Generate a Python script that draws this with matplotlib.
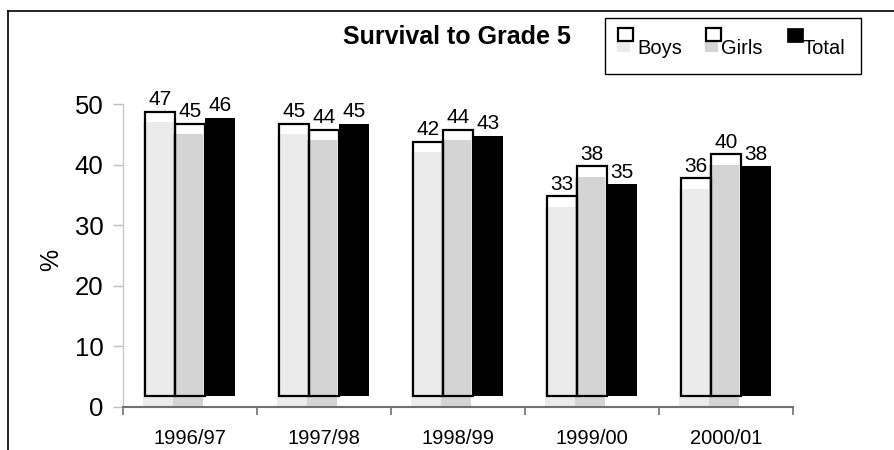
import numpy as np
import matplotlib
matplotlib.use('Agg')
import matplotlib.pyplot as plt
from matplotlib.patches import Rectangle
from matplotlib.lines import Line2D

# data
years = ['1996/97', '1997/98', '1998/99', '1999/00', '2000/01']
boys = [47, 45, 42, 33, 36]
girls = [45, 44, 44, 38, 40]
total = [46, 45, 43, 35, 38]

series_names = ['Boys', 'Girls', 'Total']
fill_colors = ['#ebebeb', '#d4d4d4', '#000000']

W, H = 895, 450
plt.rcParams['font.family'] = ['Liberation Sans', 'DejaVu Sans']

fig = plt.figure(figsize=(W / 100, H / 100), dpi=100)


def px(x, y):
    # pixel position (from top-left) -> figure fraction
    return x / W, 1 - y / H


ax_l, ax_r, ax_t, ax_b = 123, 793, 104, 407
ax = fig.add_axes([ax_l / W, 1 - ax_b / H, (ax_r - ax_l) / W, (ax_b - ax_t) / H])

x = np.arange(len(years))
bw = 0.224
shift = 1.75      # the outline sits a little above the fill
fill_dx = -0.015  # fill sits a little to the left

for i, (vals, col) in enumerate(zip([boys, girls, total], fill_colors)):
    xs = x + (i - 1) * bw
    if i < 2:
        ax.bar(xs + fill_dx, vals, width=bw, color=col, linewidth=0, zorder=2)
        ax.bar(xs, vals, width=bw, bottom=shift, fill=False, edgecolor='black',
               linewidth=1.6, zorder=3)
    else:
        ax.bar(xs, vals, width=bw, bottom=shift, color='black', linewidth=0, zorder=3)
    for xi, v in zip(xs, vals):
        ax.text(xi, v + shift + 0.4, str(v), ha='center', va='bottom', fontsize=15)

ax.set_xlim(-0.5, len(years) - 0.5)
ax.set_ylim(0, 50)
ax.set_yticks(np.arange(0, 51, 10))
ax.set_xticks(x)
ax.set_xticklabels(years, fontsize=14.5)
ax.set_xticks(np.arange(-0.5, len(years), 1), minor=True)
ax.tick_params(axis='x', which='major', length=0, pad=16)
ax.tick_params(axis='x', which='minor', length=6, width=1.2, color='#707070', direction='out')
ax.tick_params(axis='y', length=7, width=1, color='#c0c0c0', labelsize=18.5, pad=7)

for s in ['top', 'right']:
    ax.spines[s].set_visible(False)
ax.spines['left'].set_color('#c8c8c8')
ax.spines['left'].set_linewidth(1)
ax.spines['bottom'].set_color('#707070')
ax.spines['bottom'].set_linewidth(1.5)
ax.patch.set_alpha(0)

fig.text(*px(51, 260), '%', rotation=90, ha='center', va='center', fontsize=18)
fig.text(*px(457, 37), 'Survival to Grade 5', ha='center', va='center',
         fontsize=18, fontweight='bold')

# outer frame (top and left edges)
fig.add_artist(Line2D([px(8, 11)[0], 1], [px(8, 11)[1]] * 2, color='black', lw=1.2))
fig.add_artist(Line2D([px(8, 11)[0]] * 2, [px(8, 11)[1], 0], color='black', lw=1.2))

# legend drawn by hand
lx0, ly0 = px(605, 74)
lx1, ly1 = px(861, 18)
fig.add_artist(Rectangle((lx0, ly0), lx1 - lx0, ly1 - ly0, transform=fig.transFigure,
                         facecolor='white', edgecolor='black', lw=1))
marker_x = [618, 706, 787]
text_x = [637, 721, 803]
for name, col, mx, tx in zip(series_names, fill_colors, marker_x, text_x):
    if name != 'Total':
        gx, gy = px(mx - 1, 52)
        fig.add_artist(Rectangle((gx, gy), 13 / W, 13 / H, transform=fig.transFigure,
                                 facecolor=col, edgecolor='none'))
        sx, sy = px(mx, 41)
        fig.add_artist(Rectangle((sx, sy), 15 / W, 13 / H, transform=fig.transFigure,
                                 facecolor='white', edgecolor='black', lw=1.6))
    else:
        sx, sy = px(mx, 42)
        fig.add_artist(Rectangle((sx, sy), 16 / W, 14 / H, transform=fig.transFigure,
                                 facecolor='black', edgecolor='black', lw=0.5))
    fig.text(*px(tx, 49), name, ha='left', va='center', fontsize=14.5)

fig.savefig('out.png', dpi=100)
